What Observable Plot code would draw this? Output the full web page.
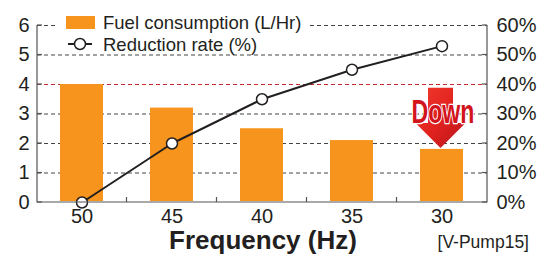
<!DOCTYPE html>
<html>
<head>
<meta charset="utf-8">
<script src="https://cdn.jsdelivr.net/npm/d3@7"></script>
<script src="https://cdn.jsdelivr.net/npm/@observablehq/plot@0.6"></script>
<style>
  html, body { margin: 0; padding: 0; background: white; }
</style>
</head>
<body>
<div id="chart"></div>
<script>
const categories = ["50", "45", "40", "35", "30"];
const fuelConsumption = [4.0, 3.2, 2.5, 2.1, 1.8];
const reductionRate = [0, 20, 35, 45, 53];
const leftTicks = [0, 1, 2, 3, 4, 5, 6];
const rightTicks = [0, 10, 20, 30, 40, 50, 60];
const highlightLevel = 4;
const arrowCategory = "30";
const arrowFrom = 3.87;
const arrowHeadAt = 2.68;
const arrowTo = 1.83;

const data = categories.map((c, i) => ({freq: c, fuel: fuelConsumption[i], rate: reductionRate[i]}));

const font = "'Liberation Sans', Arial, Helvetica, sans-serif";
const ink = "#231f20";
const axisGray = "#555";

function decorations(index, scales, values, dimensions) {
  const {x, y} = scales;
  const {width, height, marginLeft, marginRight, marginTop, marginBottom} = dimensions;
  const left = marginLeft, right = width - marginRight, bottom = height - marginBottom;
  const g = d3.create("svg:g").attr("text-anchor", "start");

  // axis lines
  g.append("path")
    .attr("d", `M${left},${y(6)}V${bottom}H${right}V${y(6)}`)
    .attr("fill", "none").attr("stroke", axisGray).attr("stroke-width", 1.2);

  // inward ticks on left and right
  for (const t of leftTicks) {
    g.append("line").attr("x1", left).attr("x2", left + 5).attr("y1", y(t)).attr("y2", y(t))
      .attr("stroke", axisGray).attr("stroke-width", 1.2);
    g.append("line").attr("x1", right - 5).attr("x2", right).attr("y1", y(t)).attr("y2", y(t))
      .attr("stroke", axisGray).attr("stroke-width", 1.2);
  }
  // between-category ticks on the bottom
  const step = x.step();
  const bw = x.bandwidth();
  for (let i = 0; i < categories.length - 1; i++) {
    const px = x(categories[i]) + bw / 2 + step / 2;
    g.append("line").attr("x1", px).attr("x2", px).attr("y1", bottom).attr("y2", bottom - 5)
      .attr("stroke", axisGray).attr("stroke-width", 1.2);
  }

  // legend
  const lg = g.append("g");
  lg.append("rect").attr("x", 57).attr("y", 8).attr("width", 250).attr("height", 44).attr("fill", "white");
  lg.append("rect").attr("x", 66).attr("y", 16).attr("width", 29).attr("height", 13).attr("fill", "#f7941d");
  lg.append("text").attr("x", 103).attr("y", 28.5).attr("text-anchor", "start").text("Fuel consumption (L/Hr)")
    .attr("font-size", 18.5).attr("fill", ink).attr("font-family", font);
  lg.append("line").attr("x1", 68).attr("x2", 92).attr("y1", 44).attr("y2", 44)
    .attr("stroke", ink).attr("stroke-width", 2);
  lg.append("circle").attr("cx", 80).attr("cy", 44).attr("r", 5.5)
    .attr("fill", "white").attr("stroke", ink).attr("stroke-width", 1.5);
  lg.append("text").attr("x", 103).attr("y", 51).attr("text-anchor", "start").text("Reduction rate (%)")
    .attr("font-size", 18.5).attr("fill", ink).attr("font-family", font);

  // arrow
  const cx = x(arrowCategory) + bw / 2 - 1;
  const yTop = y(arrowFrom), yHead = y(arrowHeadAt), yTip = y(arrowTo);
  const defs = g.append("defs");
  const grad = defs.append("linearGradient").attr("id", "arrowGrad")
    .attr("x1", 0).attr("y1", 0).attr("x2", 1).attr("y2", 1);
  grad.append("stop").attr("offset", "0%").attr("stop-color", "#f03a2e");
  grad.append("stop").attr("offset", "50%").attr("stop-color", "#e2231f");
  grad.append("stop").attr("offset", "100%").attr("stop-color", "#b8141a");
  g.append("path")
    .attr("d", `M${cx - 12.5},${yTop}H${cx + 12.5}V${yHead}H${cx + 25}L${cx},${yTip}L${cx - 25},${yHead}H${cx - 12.5}Z`)
    .attr("fill", "url(#arrowGrad)");
  g.append("text")
    .attr("transform", `translate(${cx + 2.5},${yHead}) scale(0.68,1)`)
    .attr("text-anchor", "middle")
    .attr("font-family", font).attr("font-weight", "bold").attr("font-size", 34)
    .attr("fill", "#d2141c").attr("stroke", "white").attr("stroke-width", 2.4)
    .attr("paint-order", "stroke").text("Down");

  // x label and caption
  g.append("text").attr("x", (left + right) / 2 + 1).attr("y", 249).attr("text-anchor", "middle")
    .attr("font-family", font).attr("font-weight", "bold").attr("font-size", 26)
    .attr("fill", ink).text("Frequency (Hz)");
  g.append("text").attr("x", 529).attr("y", 248).attr("text-anchor", "end")
    .attr("font-family", font).attr("font-size", 17.5)
    .attr("fill", ink).text("[V-Pump15]");
  return g.node();
}

const chart = Plot.plot({
  width: 551,
  height: 255,
  marginLeft: 37,
  marginRight: 64,
  marginTop: 25,
  marginBottom: 53,
  style: {fontFamily: font, fontSize: "20px", color: ink, background: "white", overflow: "visible"},
  x: {domain: categories, paddingInner: 0.52, paddingOuter: 0.26, label: null},
  y: {domain: [0, 6], label: null},
  marks: [
    Plot.gridY(leftTicks.filter(d => d !== 0 && d !== highlightLevel), {stroke: "#444", strokeOpacity: 1, strokeDasharray: "4,3"}),
    Plot.ruleY([highlightLevel], {stroke: "#c1272d", strokeDasharray: "4,3", strokeWidth: 1.2}),
    Plot.barY(data, {x: "freq", y: "fuel", fill: "#f7941d", insetBottom: 1}),
    Plot.line(data, {x: "freq", y: d => d.rate / 10, stroke: ink, strokeWidth: 2}),
    Plot.dot(data, {x: "freq", y: d => d.rate / 10, r: 5.5, fill: "white", stroke: ink, strokeWidth: 1.5}),
    Plot.axisY(leftTicks, {anchor: "left", tickSize: 0, tickPadding: 8, label: null, fill: ink}),
    Plot.axisY(rightTicks.map(d => d / 10), {anchor: "right", tickSize: 0, tickPadding: 9, label: null, fill: ink,
      tickFormat: d => Math.round(d * 10) + "%"}),
    Plot.axisX({tickSize: 0, tickPadding: 6, label: null, fill: ink}),
    decorations
  ]
});
document.getElementById("chart").appendChild(chart);
</script>
</body>
</html>
